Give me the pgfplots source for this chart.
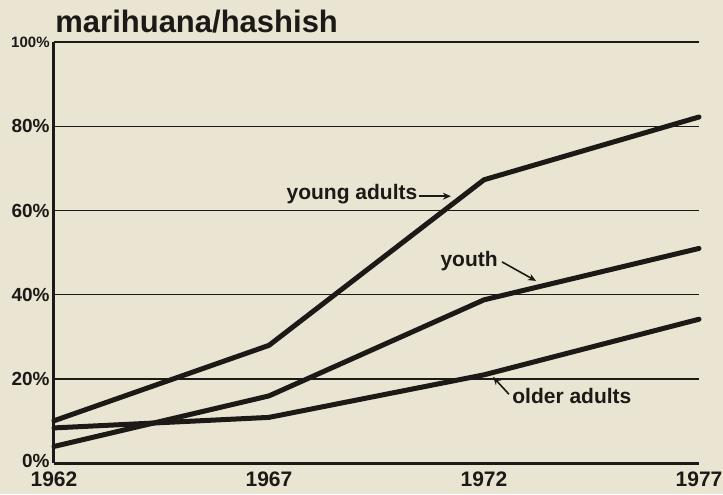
\documentclass[border=0pt]{standalone}
\usepackage{pgfplots}
\pgfplotsset{compat=1.18}
\usepackage{pgfplotstable}
\usepackage{fontspec}
\setmainfont{Liberation Sans}
\usetikzlibrary{arrows.meta}
\definecolor{bg}{RGB}{234,229,210}
\definecolor{ink}{RGB}{28,25,22}

\pgfplotstableread{
year val
1962 10.1
1967 28.0
1972 67.3
1977 82.2
}\young
\pgfplotstableread{
year val
1962 4.0
1967 16.0
1972 38.8
1977 51.0
}\youth
\pgfplotstableread{
year val
1962 8.4
1967 10.9
1972 21.0
1977 34.2
}\older

\begin{document}
\begin{tikzpicture}[x=1pt,y=1pt]
\fill[bg] (0,0) rectangle (361.5,247);
\node[anchor=base west, inner sep=0pt, font=\fontsize{15.5}{16}\selectfont\bfseries, text=ink] at (27.5,230.5) {marihuana/hashish};
\begin{axis}[
  at={(27pt,15.35pt)}, anchor=south west,
  scale only axis, width=322.5pt, height=210.65pt,
  xmin=1962, xmax=1977, ymin=0, ymax=100,
  axis x line=bottom, axis y line=left,
  axis line style={-, line width=1.5pt, ink},
  xtick={1962,1967,1972,1977},
  xticklabels={1962,1967,1972,1977},
  ytick={0,20,40,60,80,100},
  yticklabels={\raisebox{2pt}{0\%},20\%,40\%,60\%,80\%,{\fontsize{7.5}{8}\selectfont\raisebox{-1pt}{100\%}}},
  major tick length=0pt,
  xticklabel style={font=\fontsize{10.5}{12}\selectfont\bfseries, inner sep=0pt, yshift=-4pt, text=ink},
  yticklabel style={font=\fontsize{9.5}{11}\selectfont\bfseries, inner sep=0pt, xshift=-2pt, text=ink},
  ymajorgrids, grid style={line width=0.7pt, ink},
  clip=false,
]
\addplot[ink, line width=2.5pt, line join=round, line cap=round] table[x=year,y=val] {\young};
\addplot[ink, line width=2.5pt, line join=round, line cap=round] table[x=year,y=val] {\youth};
\addplot[ink, line width=2.5pt, line join=round, line cap=round] table[x=year,y=val] {\older};

\node[anchor=base west, inner sep=0pt, font=\fontsize{10.5}{12}\selectfont\bfseries, text=ink] at (axis cs:1967.40,62.7) {young adults};
\draw[ink, line width=0.8pt, -{Stealth[length=4pt,width=3.5pt]}] (axis cs:1970.49,63.4) -- (axis cs:1971.23,63.4);

\node[anchor=base west, inner sep=0pt, font=\fontsize{10.5}{12}\selectfont\bfseries, text=ink] at (axis cs:1970.98,46.8) {youth};
\draw[ink, line width=0.8pt, -{Stealth[length=4pt,width=3.5pt]}] (axis cs:1972.42,47.8) -- (axis cs:1973.21,43.3);

\node[anchor=base west, inner sep=0pt, font=\fontsize{10.5}{12}\selectfont\bfseries, text=ink] at (axis cs:1972.65,14.2) {older adults};
\draw[ink, line width=0.8pt, -{Stealth[length=4pt,width=3.5pt]}] (axis cs:1972.58,16.4) -- (axis cs:1972.21,20.5);
\end{axis}
\pgfresetboundingbox
\path[use as bounding box] (0,0) rectangle (361.5,247);
\end{tikzpicture}
\end{document}
